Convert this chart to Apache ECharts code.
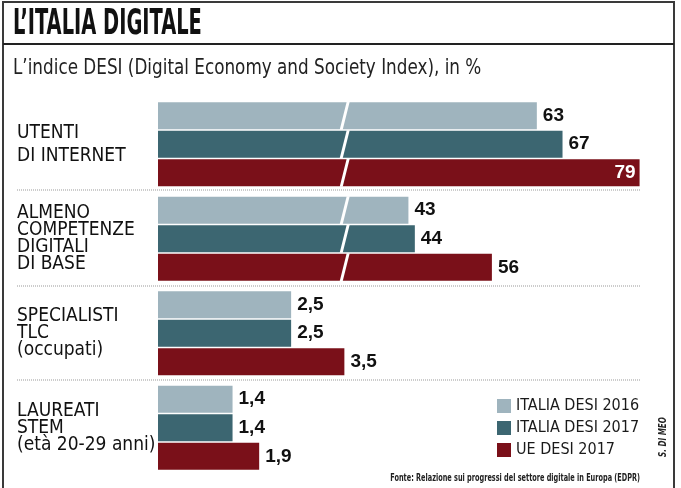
<!DOCTYPE html>
<html>
<head>
<meta charset="utf-8">
<script src="https://cdn.jsdelivr.net/npm/echarts@6/dist/echarts.min.js"></script>
<style>html,body{margin:0;padding:0;background:#fff}#c{width:681px;height:488px}</style>
</head>
<body>
<div id="c"></div>
<script>
// ---- data ----
const categories = ['UTENTI\nDI INTERNET', 'ALMENO\nCOMPETENZE\nDIGITALI\nDI BASE', 'SPECIALISTI\nTLC\n(occupati)', 'LAUREATI\nSTEM\n(età 20-29 anni)'];
const seriesNames = ['ITALIA DESI 2016', 'ITALIA DESI 2017', 'UE DESI 2017'];
const italia2016 = [63, 43, 2.5, 1.4];
const italia2017 = [67, 44, 2.5, 1.4];
const ue2017 = [79, 56, 3.5, 1.9];
const titleText = 'L\u2019ITALIA DIGITALE';
const subtitleText = 'L\u2019indice DESI (Digital Economy and Society Index), in %';
const sourceText = 'Fonte: Relazione sui progressi del settore digitale in Europa (EDPR)';
const authorText = 'S. DI MEO';

// ---- style ----
const colors = ['#9fb4be', '#3c6671', '#7a1019'];
const NARROW = '"Liberation Sans Narrow", "DejaVu Sans Condensed", sans-serif';
const BOLDF = '"Liberation Sans", Arial, sans-serif';
const breakAt = 33; // visual axis-break position on the upper (broken) scale

const allValues = [italia2016, italia2017, ue2017];
const fmt = v => String(v).replace('.', ',');

function labelFor(ci) {
  const lines = categories[ci].split('\n');
  const style = ci === 0 ? 'a' : 'b';
  return lines.map(l => '{' + style + '|' + l + '}').join('\n');
}

function makeSeries(gridIdx, from, to) {
  return allValues.map((vals, si) => ({
    type: 'bar',
    name: seriesNames[si],
    xAxisIndex: gridIdx,
    yAxisIndex: gridIdx,
    barWidth: 27,
    barGap: '6%',
    itemStyle: { color: colors[si] },
    label: {
      show: true, position: 'right', distance: 6,
      fontFamily: BOLDF, fontWeight: 'bold', fontSize: 19, color: '#111',
      formatter: p => fmt(p.value)
    },
    data: vals.slice(from, to).map(v => {
      const inside = gridIdx === 0 && v >= 75;
      return inside ? { value: v, label: { position: 'insideRight', distance: 4, color: '#fff' } } : v;
    })
  }));
}

const yAxisCommon = {
  type: 'category', inverse: true,
  axisLine: { show: false }, axisTick: { show: false }, splitLine: { show: false },
  axisLabel: {
    margin: 141, align: 'left', color: '#111',
    rich: {
      a: { fontFamily: NARROW, fontSize: 19, lineHeight: 23, color: '#111' },
      b: { fontFamily: NARROW, fontSize: 19, lineHeight: 17, color: '#111' }
    }
  }
};

const option = {
  backgroundColor: '#fff',
  animation: false,
  grid: [
    { left: 158, width: 488, top: 97, height: 189 },
    { left: 158, width: 213, top: 286, height: 189 }
  ],
  xAxis: [
    { type: 'value', gridIndex: 0, min: 4, max: 80, show: false },
    { type: 'value', gridIndex: 1, min: 0, max: 4, show: false }
  ],
  yAxis: [
    Object.assign({}, yAxisCommon, { gridIndex: 0, data: [0, 1].map(labelFor) }),
    Object.assign({}, yAxisCommon, { gridIndex: 1, data: [2, 3].map(labelFor) })
  ],
  legend: {
    data: seriesNames, orient: 'vertical', left: 497, top: 398,
    icon: 'rect', itemWidth: 14, itemHeight: 14, itemGap: 6, padding: 0,
    textStyle: { fontFamily: NARROW, fontSize: 16, color: '#1a1a1a' }
  },
  series: [].concat(makeSeries(0, 0, 2), makeSeries(1, 2, 4)),
  graphic: []
};

const chart = echarts.init(document.getElementById('c'), null, { renderer: 'canvas' });
chart.setOption(option);

// decorations
const g = [];
g.push({ type: 'rect', shape: { x: 3, y: 2, width: 671, height: 500 }, style: { fill: 'none', stroke: '#3a3a3a', lineWidth: 2 }, silent: true });
g.push({ type: 'line', shape: { x1: 3, y1: 44, x2: 674, y2: 44 }, style: { stroke: '#222', lineWidth: 2 }, silent: true });
g.push({ type: 'text', x: 13, y: 25, scaleX: 0.6, style: { text: titleText, fontFamily: NARROW, fontWeight: 'bold', fontSize: 36, fill: '#111', verticalAlign: 'middle' } });
g.push({ type: 'text', x: 13, y: 69, scaleX: 0.89, style: { text: subtitleText, fontFamily: NARROW, fontSize: 21, fill: '#222', verticalAlign: 'middle' } });
[190, 286, 380].forEach(y => g.push({ type: 'line', shape: { x1: 17, y1: y, x2: 641, y2: y }, style: { stroke: '#999', lineWidth: 1, lineDash: [1, 1] }, silent: true }));
g.push({ type: 'text', x: 640, y: 478, scaleX: 0.66, style: { text: sourceText, fontFamily: NARROW, fontWeight: 'bold', fontSize: 11, fill: '#222', align: 'right', verticalAlign: 'middle' } });
g.push({ type: 'text', x: 663, y: 437, rotation: Math.PI / 2, scaleX: 0.8, style: { text: authorText, fontFamily: NARROW, fontWeight: 'bold', fontStyle: 'italic', fontSize: 10, fill: '#222', align: 'center', verticalAlign: 'middle' } });

// axis-break cuts on the upper bars
const model = chart.getModel();
const cutX = chart.convertToPixel({ xAxisIndex: 0 }, breakAt);
[0, 1, 2].forEach(si => {
  const data = model.getSeriesByIndex(si).getData();
  for (let j = 0; j < data.count(); j++) {
    const l = data.getItemLayout(j);
    if (!l) continue;
    const top = Math.min(l.y, l.y + l.height), bot = Math.max(l.y, l.y + l.height);
    g.push({ type: 'polygon', z: 100, silent: true,
      shape: { points: [[cutX + 2.5, top - 0.5], [cutX + 5.5, top - 0.5], [cutX - 1.5, bot + 0.5], [cutX - 4.5, bot + 0.5]] },
      style: { fill: '#fff' } });
  }
});
chart.setOption({ graphic: g });
</script>
</body>
</html>
